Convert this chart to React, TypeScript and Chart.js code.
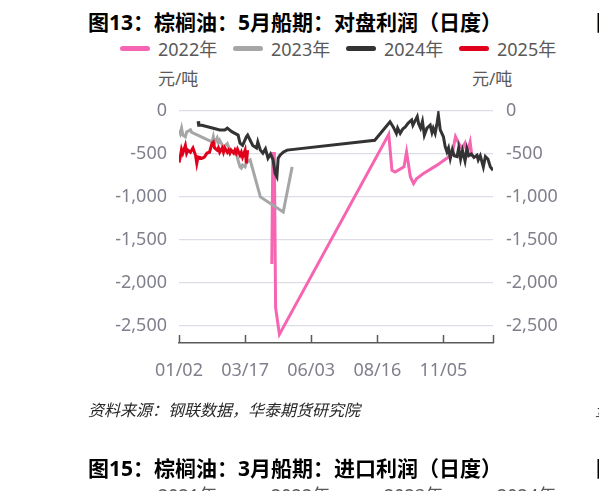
import { useEffect, useRef } from "react";
import { Chart, registerables, type Plugin } from "chart.js";

Chart.register(...registerables);

const FONT = '"Noto Sans", "Noto Sans CJK SC", sans-serif';

// x = trading-day index within the year, ticks every 52 days
const X_MAX = 247;
const X_TICKS = [0, 52, 104, 156, 208];
const X_LABELS = ["01/02", "03/17", "06/03", "08/16", "11/05"];
const Y_TICKS = [0, -500, -1000, -1500, -2000, -2500];

const YEARS = ["2022年", "2023年", "2024年", "2025年"];
const COLORS = ["#F665B2", "#A6A6A6", "#333333", "#E0001B"];

const X_2022 = [73, 73.8, 75, 76, 79, 165, 167.5, 170, 177, 179, 182, 184.5, 187, 192, 203, 212, 215, 217.5, 220, 222.6, 225, 226.5, 229, 230.5];
const V_2022 = [-1780, -495, -495, -2290, -2600, -270, -690, -710, -650, -475, -765, -845, -785, -730, -630, -535, -495, -300, -375, -435, -375, -495, -360, -535];

const X_2023 = [0, 1, 2, 3, 5, 6, 9, 10, 26, 27, 28, 30, 31, 32, 35, 38, 40, 43, 45, 46, 48, 49, 50, 52, 53, 56, 64, 82, 89];
const V_2023 = [-220, -260, -200, -280, -300, -245, -220, -250, -360, -300, -375, -315, -370, -340, -420, -380, -455, -470, -490, -550, -650, -665, -630, -650, -600, -570, -1000, -1175, -650];

const X_2024 = [15, 15.5, 18, 27, 32, 36, 38, 41.5, 44, 46.5, 48, 50, 53, 54, 56, 58, 61, 62, 64, 66, 68, 70, 72, 74, 75.6, 77, 78, 79.5, 82, 85, 154, 166, 168.5, 171, 172, 174, 176, 178, 180.3, 183, 184, 185.5, 187.4, 188.5, 190, 191.5, 193, 195, 197.6, 199, 200, 201.5, 203, 204, 205.5, 208, 209.4, 210.8, 212, 213.4, 215, 216.5, 218.7, 220, 221.5, 223, 225, 226.5, 228, 230, 232, 234.4, 235.4, 237, 239.4, 241, 243, 244.9, 247];
const V_2024 = [-120, -165, -165, -200, -220, -220, -200, -240, -260, -280, -375, -400, -300, -280, -340, -400, -430, -360, -455, -490, -440, -550, -500, -570, -725, -765, -550, -515, -480, -455, -340, -125, -185, -260, -200, -260, -210, -185, -140, -105, -165, -120, -65, -150, -200, -120, -280, -200, -165, -250, -200, -260, -140, -45, -220, -300, -415, -475, -430, -550, -450, -520, -530, -430, -560, -460, -580, -440, -520, -500, -540, -515, -570, -520, -650, -530, -560, -650, -690];

const X_2025 = [0, 1, 2, 3, 5, 6, 7, 9, 10, 11, 13, 14, 15, 18, 20, 22, 24, 26, 27, 28, 30, 31, 32, 34, 35, 36, 38, 39, 40, 41, 43, 44, 45, 46, 48, 49, 50, 52, 53, 54];
const V_2025 = [-600, -535, -445, -490, -400, -490, -455, -480, -455, -430, -515, -610, -535, -550, -535, -490, -480, -375, -360, -430, -455, -430, -480, -430, -480, -430, -480, -455, -490, -455, -490, -455, -490, -445, -515, -480, -535, -455, -610, -455];

const SERIES_X = [X_2022, X_2023, X_2024, X_2025];
const SERIES_V = [V_2022, V_2023, V_2024, V_2025];

// small upward tick marks on the category axis
const axisTicks: Plugin<"line"> = {
  id: "axisTicks",
  afterDraw(chart) {
    const { ctx, chartArea, scales } = chart;
    ctx.save();
    ctx.strokeStyle = "#595959";
    ctx.lineWidth = 1.5;
    [...X_TICKS, X_MAX].forEach((v) => {
      const px = Math.round(scales.x.getPixelForValue(v)) + 0.5;
      ctx.beginPath();
      ctx.moveTo(px, chartArea.bottom);
      ctx.lineTo(px, chartArea.bottom - 8);
      ctx.stroke();
    });
    ctx.restore();
  },
};

function PalmChart() {
  const canvasRef = useRef<HTMLCanvasElement>(null);
  const chartRef = useRef<Chart | null>(null);

  useEffect(() => {
    if (!canvasRef.current) return;
    chartRef.current?.destroy();

    const tickFont = { family: FONT, size: 18 };
    const setY = (scale: any) => {
      scale.ticks = Y_TICKS.map((v) => ({ value: v }));
    };

    chartRef.current = new Chart(canvasRef.current, {
      type: "line",
      data: {
        datasets: YEARS.map((label, i) => ({
          label,
          data: SERIES_X[i].map((x, j) => ({ x, y: SERIES_V[i][j] })),
          borderColor: COLORS[i],
          borderWidth: 3,
          pointRadius: 0,
          tension: 0,
          order: 4 - i,
        })),
      },
      options: {
        animation: false,
        responsive: true,
        maintainAspectRatio: false,
        layout: { padding: { top: 111, bottom: 108, left: 0, right: 0 } },
        plugins: { legend: { display: false }, tooltip: { enabled: false } },
        scales: {
          x: {
            type: "linear",
            min: 0,
            max: X_MAX,
            grid: { display: false },
            border: { display: true, color: "#595959", width: 1.5 },
            afterBuildTicks: (scale: any) => {
              scale.ticks = X_TICKS.map((v) => ({ value: v }));
            },
            afterFit: (scale: any) => {
              scale.height = 40;
            },
            ticks: {
              autoSkip: false,
              maxRotation: 0,
              padding: 9,
              color: "#80808c",
              font: tickFont,
              callback: (value) => X_LABELS[X_TICKS.indexOf(Number(value))],
            },
          },
          y: {
            position: "left",
            min: -2700,
            max: 0,
            grid: { color: "#dcdde6", lineWidth: 1.2, drawTicks: false },
            border: { display: false },
            afterBuildTicks: setY,
            afterFit: (scale: any) => {
              scale.width = 179;
            },
            ticks: { padding: 12, color: "#80808c", font: tickFont },
          },
          y2: {
            position: "right",
            min: -2700,
            max: 0,
            grid: { display: false, drawTicks: false },
            border: { display: false },
            afterBuildTicks: setY,
            afterFit: (scale: any) => {
              scale.width = 106;
            },
            ticks: { padding: 13, color: "#80808c", font: tickFont },
          },
        },
      },
      plugins: [axisTicks],
    });

    return () => {
      chartRef.current?.destroy();
    };
  }, []);

  return (
    <div style={{ position: "absolute", left: 0, top: 0, width: 599, height: 491 }}>
      <canvas ref={canvasRef} />
    </div>
  );
}

function Legend({ top, labels }: { top: number; labels: string[] }) {
  return (
    <>
      {labels.map((label, i) => (
        <div
          key={label}
          style={{
            position: "absolute",
            left: 120 + i * 113,
            top: top - 13,
            height: 26,
            display: "flex",
            alignItems: "center",
            whiteSpace: "nowrap",
            fontSize: 18,
            color: "#595959",
          }}
        >
          <span
            style={{
              display: "inline-block",
              width: 30,
              height: 5,
              borderRadius: 3,
              background: COLORS[i],
              marginRight: 8,
            }}
          />
          {label}
        </div>
      ))}
    </>
  );
}

const titleStyle = {
  position: "absolute" as const,
  top: 9,
  fontSize: 21,
  fontWeight: 700,
  color: "#000",
  whiteSpace: "nowrap" as const,
  lineHeight: "26px",
};

const sourceStyle = {
  position: "absolute" as const,
  top: 399,
  fontSize: 16,
  fontStyle: "italic" as const,
  color: "#262626",
  whiteSpace: "nowrap" as const,
  lineHeight: "22px",
};

const unitStyle = {
  position: "absolute" as const,
  top: 67,
  fontSize: 17,
  color: "#595959",
  lineHeight: "24px",
};

export default function App() {
  return (
    <div
      style={{
        position: "fixed",
        left: 0,
        top: 0,
        width: 599,
        height: 491,
        overflow: "hidden",
        background: "#fff",
        fontFamily: FONT,
      }}
    >
      <div style={{ ...titleStyle, left: 88 }}>图13：棕榈油：5月船期：对盘利润（日度）</div>
      <div style={{ ...titleStyle, left: 596 }}>图14：棕榈油：5月船期：进口利润（日度）</div>
      <Legend top={48} labels={YEARS} />
      <div style={{ ...unitStyle, left: 158 }}>元/吨</div>
      <div style={{ ...unitStyle, left: 472 }}>元/吨</div>
      <PalmChart />
      <div style={{ ...sourceStyle, left: 88 }}>资料来源：钢联数据，华泰期货研究院</div>
      <div style={{ ...sourceStyle, left: 595 }}>资料来源：钢联数据，华泰期货研究院</div>
      <div style={{ ...titleStyle, top: 455, left: 88 }}>图15：棕榈油：3月船期：进口利润（日度）</div>
      <div style={{ ...titleStyle, top: 455, left: 596 }}>图16：棕榈油：3月船期：对盘利润（日度）</div>
      <Legend top={494} labels={["2021年", "2022年", "2023年", "2024年"]} />
    </div>
  );
}
